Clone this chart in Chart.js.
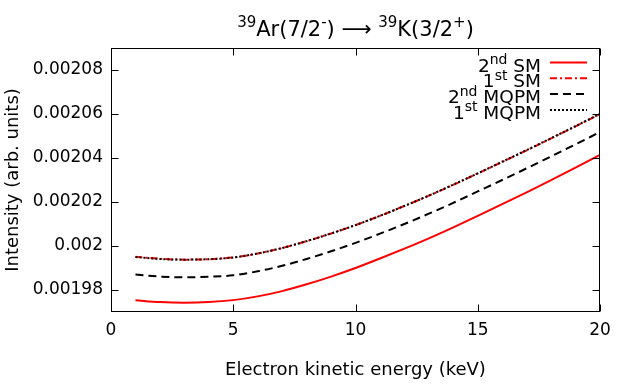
<!DOCTYPE html>
<html><head><meta charset="utf-8">
<script src="https://cdn.jsdelivr.net/npm/chart.js@4/dist/chart.umd.min.js"></script>
<style>html,body{margin:0;padding:0;background:#fff}#wrap{width:634px;height:392px}</style>
</head><body><div id="wrap"><canvas id="c" width="634" height="392"></canvas></div>
<script>
// ---- data ----
const energies = [1,2,3,4,5,6,7,8,9,10,11,12,13,14,15,16,17,18,19,20];
const sm2nd   = [0.0019753,0.0019745,0.0019742,0.0019745,0.0019754,0.0019771,0.0019795,0.0019826,0.0019861,0.0019900,0.0019943,0.0019988,0.0020035,0.0020085,0.0020137,0.0020190,0.0020244,0.0020299,0.0020356,0.0020414];
const sm1st   = [0.0019951,0.0019942,0.0019938,0.0019940,0.0019948,0.0019966,0.0019991,0.0020022,0.0020057,0.0020095,0.0020137,0.0020182,0.0020229,0.0020278,0.0020330,0.0020382,0.0020435,0.0020489,0.0020544,0.0020600];
const mqpm2nd = [0.0019870,0.0019861,0.0019858,0.0019860,0.0019867,0.0019885,0.0019910,0.0019941,0.0019976,0.0020014,0.0020056,0.0020100,0.0020147,0.0020196,0.0020248,0.0020300,0.0020353,0.0020407,0.0020462,0.0020518];
const mqpm1st = [0.0019950,0.0019941,0.0019938,0.0019940,0.0019948,0.0019966,0.0019991,0.0020022,0.0020057,0.0020095,0.0020137,0.0020182,0.0020229,0.0020279,0.0020330,0.0020383,0.0020436,0.0020490,0.0020545,0.0020601];
const seriesNames = ['2nd SM','1st SM','2nd MQPM','1st MQPM'];
const xTicks = [0,5,10,15,20];
const yTicks = [0.00198,0.00200,0.00202,0.00204,0.00206,0.00208];
const xTitle = 'Electron kinetic energy (keV)';
const yTitle = 'Intensity (arb. units)';
// title pieces: [text, isSuperscript]
const titleParts = [['39',true],['Ar(7/2',false],['-',true],[') \u27F6 ',false],['39',true],['K(3/2',false],['+',true],[')',false]];

// ---- styling ----
const FAMILY = "'DejaVu Sans', sans-serif";
const lineStyles = [
  {color:'#ff0000', dash:[]},
  {color:'#ff0000', dash:[7,3,2,3]},
  {color:'#000000', dash:[8,5]},
  {color:'#000000', dash:[2,2]}
];
const seriesValues = [sm2nd, sm1st, mqpm2nd, mqpm1st];

function drawRich(ctx, parts, x, y, align, size, supSize, rise){
  const ws = parts.map(p => { ctx.font = (p[1]?supSize:size)+'px '+FAMILY; return ctx.measureText(p[0]).width; });
  const total = ws.reduce((a,b)=>a+b,0);
  let cx = align==='right' ? x-total : align==='center' ? x-total/2 : x;
  ctx.textAlign='left'; ctx.textBaseline='alphabetic'; ctx.fillStyle='#000';
  parts.forEach((p,i)=>{
    ctx.font = (p[1]?supSize:size)+'px '+FAMILY;
    ctx.fillText(p[0], cx, p[1]? y-rise : y);
    cx += ws[i];
  });
}
function parseLabel(s){
  const m = s.match(/^(\d+)(st|nd|rd|th)\s+(.*)$/);
  return m ? [[m[1],false],[m[2],true],[' '+m[3],false]] : [[s,false]];
}

const decor = {
  id:'decor',
  afterDatasetsDraw(chart){
    const {ctx, chartArea:a, scales:{x, y}} = chart;
    ctx.save();
    ctx.strokeStyle='#000'; ctx.lineWidth=1; ctx.setLineDash([]);
    const L=Math.round(a.left)+0.5, R=Math.round(a.right)-0.5, T=Math.round(a.top)+0.5, B=Math.round(a.bottom)-0.5;
    ctx.strokeRect(L, T, R-L, B-T);
    const tl = 7;
    ctx.beginPath();
    xTicks.forEach(v=>{ const px=Math.round(x.getPixelForValue(v))+0.5;
      ctx.moveTo(px,B); ctx.lineTo(px,B-tl); ctx.moveTo(px,T); ctx.lineTo(px,T+tl); });
    yTicks.forEach(v=>{ const py=Math.round(y.getPixelForValue(v))+0.5;
      ctx.moveTo(L,py); ctx.lineTo(L+tl,py); ctx.moveTo(R,py); ctx.lineTo(R-tl,py); });
    ctx.stroke();
    // legend
    seriesNames.forEach((n,i)=>{
      const sy = 62.5 + i*15.8;
      drawRich(ctx, parseLabel(n), 541, sy+9, 'right', 18.5, 14, 7.5);
      ctx.beginPath(); ctx.strokeStyle=lineStyles[i].color; ctx.lineWidth=2; ctx.setLineDash(lineStyles[i].dash);
      ctx.moveTo(550, sy); ctx.lineTo(587, sy); ctx.stroke();
    });
    ctx.restore();
  },
  afterDraw(chart){
    const {ctx, chartArea:a} = chart;
    ctx.save();
    drawRich(ctx, titleParts, (a.left+a.right)/2, 35.5, 'center', 21, 15, 9);
    ctx.restore();
  }
};

new Chart(document.getElementById('c'), {
  type:'line',
  data:{ datasets: seriesNames.map((n,i)=>({
    label:n,
    data: energies.map((e,k)=>({x:e, y:seriesValues[i][k]})),
    borderColor: lineStyles[i].color, borderDash: lineStyles[i].dash,
    borderWidth:2, pointRadius:0, fill:false, cubicInterpolationMode:'monotone',
    order: 4-i
  }))},
  options:{
    responsive:false, animation:false, devicePixelRatio:1,
    layout:{padding:{top:48,right:34,bottom:0,left:0}},
    plugins:{legend:{display:false}, title:{display:false}, tooltip:{enabled:false}},
    scales:{
      x:{type:'linear', min:0, max:20,
        border:{display:false}, grid:{display:false, drawTicks:false},
        ticks:{color:'#000', padding:8, maxRotation:0, font:{family:FAMILY, size:17}},
        afterBuildTicks:s=>{ s.ticks = xTicks.map(v=>({value:v})); },
        afterFit:s=>{ s.height = 80; },
        title:{display:true, text:xTitle, color:'#000', font:{family:FAMILY, size:18}, padding:{top:0,bottom:11}}
      },
      y:{type:'linear', min:0.00197, max:0.00209,
        border:{display:false}, grid:{display:false, drawTicks:false},
        ticks:{color:'#000', padding:8, font:{family:FAMILY, size:17}, callback:v=>String(Number(Number(v).toFixed(5)))},
        afterBuildTicks:s=>{ s.ticks = yTicks.map(v=>({value:v})); },
        afterFit:s=>{ s.width = 111; },
        title:{display:true, text:yTitle, color:'#000', font:{family:FAMILY, size:18}, padding:{top:3,bottom:0}}
      }
    }
  },
  plugins:[decor]
});
</script></body></html>
